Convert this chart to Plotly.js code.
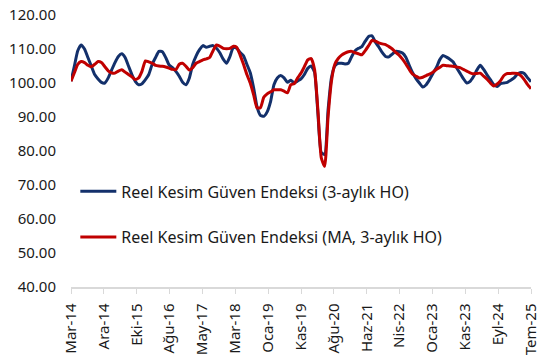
<!DOCTYPE html>
<html>
<head>
<meta charset="utf-8">
<script src="https://cdn.plot.ly/plotly-3.0.1.min.js"></script>
<style>html,body{margin:0;padding:0;background:#fff;}#chart{width:549px;height:359px;}</style>
</head>
<body>
<div id="chart"></div>
<script>
// Monthly series, Mar-14 .. Tem-25 (137 months)
const seriesNames = ["Reel Kesim Güven Endeksi (3-aylık HO)", "Reel Kesim Güven Endeksi (MA, 3-aylık HO)"];
const tickLabels = ["Mar-14","Ara-14","Eki-15","Ağu-16","May-17","Mar-18","Oca-19","Kas-19","Ağu-20","Haz-21","Nis-22","Oca-23","Kas-23","Eyl-24","Tem-25"];
const rkgeHO = [
 100.5,105,109.5,111.2,110,107.5,105,102.5,101.2,100.2,
 100.0,101.5,103.8,106,107.8,108.6,107.5,105,102.5,100.5,
 99.5,99.8,101,102.5,105.5,107.5,109.3,109.2,107.5,105.3,
 104.5,103.4,102,100.2,99.5,101.5,105.5,108,109.8,111,
 110.5,110.8,111,110.2,108.9,107,105.8,107.8,110.5,110.2,
 109,108,105.5,103,98.5,93,90.5,90.2,91.5,94.5,
 99.5,101.5,102.2,101.5,100.2,100.8,100.0,100.6,101.2,102.5,
 104.3,105,103.2,91,79.5,79,92,101.5,105,105.8,
 105.8,105.6,105.8,107.8,109.5,110.2,110.7,112.3,113.7,113.9,
 112,110.6,109,107.8,107.7,108.5,109.3,109.2,108.8,107.6,
 105.2,103,101.3,100,98.8,99.5,101,102.8,104.5,106.8,
 108.1,107.6,107,106.2,104.5,102.9,101.3,100,100.5,101.9,
 103.8,105.2,104,102.4,101,99.5,99.0,99.8,100,100.2,
 100.8,101.5,102.6,103.1,102.8,101.5,100.4
];
const rkgeMA = [
 100.5,103,105.5,106.3,106,105.2,104.8,105.5,106.3,106,
 104.8,103.6,103,102.9,103.5,103.9,103.2,102.5,101.8,101,
 101.5,103.5,106.5,106.2,105.8,105.2,105,104.9,104.7,104.4,
 104,103.9,105.5,105.8,104.9,103.8,104.5,105.8,106.3,106.8,
 107.1,107.5,109.5,111.2,110.8,110.2,110.1,110.2,110.8,110.5,
 108.2,105.5,102.5,100,96.5,92.7,92.7,95.8,96.8,97.4,
 98,98,98,97.6,97.1,99.5,99.8,101.5,102.9,104.8,
 106.8,107.2,104,92,78,75.5,90,100.5,105.5,107.2,
 108.2,108.8,109.2,109.3,108.9,108.6,108.3,109.5,111,112.5,
 112.3,111.8,111.5,111.3,110.7,110,109,108.2,107,105.6,
 104,102.6,102,101.5,101.7,102.2,102.6,103.2,104,104.6,
 105.2,105.1,105,104.9,104.7,104.5,104,103.5,103,102.7,
 102.8,102.9,102,101.1,100,99.1,99.7,100.7,102.2,102.8,
 102.8,102.9,102.8,102.2,101,99.5,98.3
];

const idx = rkgeHO.map((_, i) => i);
const last = rkgeHO.length - 1;
const tickVals = tickLabels.map((_, k) => k * last / (tickLabels.length - 1));
const FONT = '"Noto Sans", "Open Sans", sans-serif';

const traces = [
  {x: idx, y: rkgeHO, name: seriesNames[0], type: 'scatter', mode: 'lines', legendgroup: 'a',
   line: {color: '#13306b', width: 3, shape: 'spline', smoothing: 0.5}},
  {x: idx, y: rkgeMA, name: seriesNames[1], type: 'scatter', mode: 'lines', legendgroup: 'b',
   line: {color: '#c00000', width: 3, shape: 'spline', smoothing: 0.5}}
];

const layout = {
  width: 549, height: 359,
  margin: {l: 71, r: 18, t: 15, b: 72},
  paper_bgcolor: '#ffffff', plot_bgcolor: '#ffffff',
  font: {family: FONT, size: 15, color: '#1a1a1a'},
  showlegend: true,
  legend: {x: 0.0094, y: 0.414, xanchor: 'left', yanchor: 'top', bgcolor: 'rgba(0,0,0,0)',
           font: {family: FONT, size: 16, color: '#1a1a1a'}, traceorder: 'grouped', tracegroupgap: 22,
           itemwidth: 36},
  xaxis: {
    range: [0, last], tickmode: 'array', tickvals: tickVals, ticktext: tickLabels,
    tickangle: -90, showgrid: false, zeroline: false, showline: true, linecolor: '#d9d9d9', linewidth: 1.5,
    ticks: 'outside', ticklen: 5, tickcolor: '#d9d9d9', tickwidth: 1, ticklabelstandoff: 4,
    tickfont: {family: FONT, size: 15, color: '#1a1a1a'}
  },
  yaxis: {
    range: [40, 120], dtick: 10, tick0: 40, tickformat: '.2f', showgrid: false, zeroline: false,
    showline: false, ticks: '', ticklabelstandoff: 14,
    tickfont: {family: FONT, size: 15, color: '#1a1a1a'}
  }
};

Plotly.newPlot('chart', traces, layout, {displayModeBar: false, staticPlot: true});
</script>
</body>
</html>
